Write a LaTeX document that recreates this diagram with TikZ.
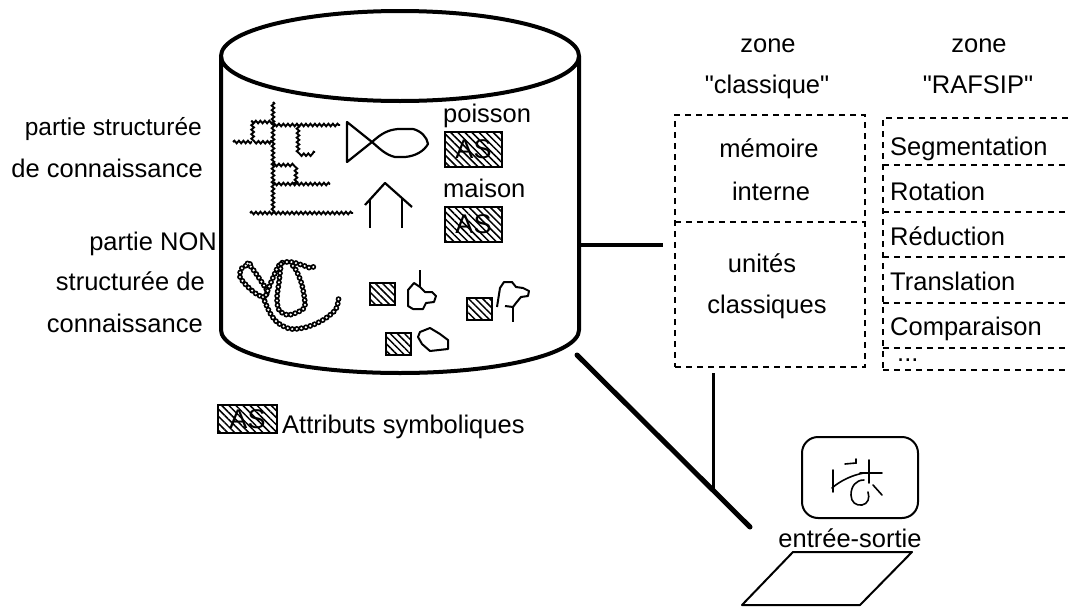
\documentclass[tikz,border=0pt]{standalone}
\usepackage{fontspec}
\setmainfont{Liberation Sans}[Ligatures=TeXOff]
\usetikzlibrary{patterns.meta, decorations.pathmorphing}

% a chain of hollow beads: black dots with white centres
\newcommand\beadchain[1]{\draw[beadout] plot[smooth] coordinates {#1};\draw[beadin] plot[smooth] coordinates {#1};}

\begin{document}
\begin{tikzpicture}[x=1pt, y=-1pt,
  lbl/.style={font=\fontsize{25.5}{30}\selectfont, inner sep=0pt},
  cyl/.style={line width=4pt},
  dashline/.style={dash pattern=on 6pt off 5pt, line width=1.5pt},
  dashbox/.style={draw, dashline, inner sep=0pt},
  cell/.style={inner sep=0pt, minimum width=192pt},
  hatch/.style={pattern={Lines[angle=-45, distance=5pt, line width=1.5pt]}},
  asbox/.style={draw, line width=2pt, hatch, inner sep=0pt,
                minimum width=57pt, minimum height=35pt, font=\fontsize{27}{30}\selectfont},
  smallas/.style={draw, line width=2pt, hatch, inner sep=0pt,
                  minimum width=25pt, minimum height=22pt},
  link/.style={line width=4pt},
  wavy/.style={decorate, decoration={snake, amplitude=1.3pt, segment length=4.5pt}, line width=1.9pt},
  beadout/.style={line width=5.8pt, line cap=round, dash pattern=on 0pt off 4.6pt},
  beadin/.style={white, line width=2.4pt, line cap=round, dash pattern=on 0pt off 4.6pt},
  outline/.style={line width=2.2pt, line join=round},
  blob/.style={line width=2pt, line join=round},
  icon/.style={line width=1.6pt, line cap=round}
]
\useasboundingbox (0,0) rectangle (1069,608);

% ---------- knowledge base (cylinder) ----------
\draw[cyl] (400,56) ellipse [x radius=179pt, y radius=45pt];
\draw[cyl] (221,56) -- (221,330) arc[start angle=180, end angle=360, x radius=179pt, y radius=43pt] -- (579,56);
\coordinate (cylR) at (581,245);
\coordinate (cylB) at (577,355);

% labels on the left
\node[lbl, anchor=base east, font=\fontsize{24.5}{30}\selectfont] (ls1) at (202,135) {partie structurée};
\node[lbl, anchor=base east] (ls2) at (203,177) {de connaissance};
\node[lbl, anchor=base east] (ln1) at (217,250) {partie NON};
\node[lbl, anchor=base east] (ln2) at (205,290) {structurée de};
\node[lbl, anchor=base east] (ln3) at (203,332) {connaissance};

% structured part: tree of wavy links
\draw[wavy] (273,102) -- (273,213);
\draw[wavy] (273,125) -- (340,125);
\draw[wavy] (298,125) -- (298,152) -- (315,152);
\draw[wavy] (273,122) -- (252,122) -- (252,141) -- (273,141);
\draw[wavy] (233,142) -- (252,142);
\draw[wavy] (273,165) -- (293,165) -- (293,184);
\draw[wavy] (273,184) -- (330,184);
\draw[wavy] (250,213) -- (353,213);

% fish
\draw[outline] (347,122) -- (347,162) -- (372,142)
  .. controls (382,133) and (388,130) .. (398,129) -- (413,129)
  .. controls (421,131) and (427,137) .. (428,144)
  .. controls (424,151) and (416,156) .. (405,157) -- (395,157)
  .. controls (386,155) and (380,149) .. (372,142) -- cycle;

% house
\draw[outline] (365,205) -- (385,183) -- (412,207);
\draw[outline] (370,199) -- (370,228);
\draw[outline] (402,198) -- (402,228);

% object names and their symbolic attributes
\node[lbl, anchor=base west] (poisson) at (443,122) {poisson};
\node[asbox] (as1) at (473.5,149.5) {AS};
\node[lbl, anchor=base west] (maison) at (443,197) {maison};
\node[asbox] (as2) at (473.5,224) {AS};

% non-structured part: bead chains
\beadchain{(250,264) (242,268) (240,277) (248,287) (258,295) (265,297) (267,291) (261,281) (252,268) (246,262)}
\beadchain{(263,297) (270,313) (278,323) (291,329) (307,327) (323,320) (336,309) (339,295)}
\beadchain{(266,295) (272,280) (280,264) (291,262) (302,265) (311,268) (316,265)}
\beadchain{(281,264) (279,282) (277,298) (279,310) (288,315) (300,311) (305,305) (302,285) (296,270) (290,263)}

% small attribute boxes with shapes
\node[smallas] (sa1) at (382.5,294) {};
\draw[blob] (420,270) -- (420,287);
\draw[blob] (420,287) -- (414,283) -- (408,290) -- (408,306) -- (413,309) -- (423,309)
  -- (426,303) -- (434,302) -- (436,296) -- (432,292) -- (425,292) -- cycle;

\node[smallas] (sa2) at (398,344) {};
\draw[blob] (420,332) -- (430,328) -- (440,334) -- (448,340) -- (448,349) -- (430,351) -- (422,344) -- (418,337) -- cycle;

\node[smallas] (sa3) at (479.5,308.5) {};
\draw[blob] (497,307) -- (500,288) -- (504,282) -- (512,282) -- (516,287) -- (523,288)
  -- (529,291) -- (528,296) -- (521,297) -- (516,303) -- (513,307) -- (505,306);
\draw[blob] (513,307) -- (513,322);

% legend
\node[asbox, minimum width=59pt, minimum height=28pt] (aslegend) at (247.5,419) {AS};
\node[lbl, anchor=base west] (legend) at (282,433) {Attributs symboliques};

% ---------- "classique" zone ----------
\node[lbl, anchor=base] (z1) at (768,52) {zone};
\node[lbl, anchor=base] (z1b) at (767,93) {"classique"};
\node[dashbox, minimum width=190pt, minimum height=252pt] (classic) at (770,241) {};
\node[cell, minimum width=190pt, minimum height=107pt] (mem) at (770,168.5) {};
\node[cell, minimum width=190pt, minimum height=145pt] (unit) at (770,294.5) {};
\draw[dashline] (mem.south west) -- (mem.south east);
\node[lbl, anchor=base] (memA) at (769,157) {mémoire};
\node[lbl, anchor=base] (memB) at (771,200) {interne};
\node[lbl, anchor=base] (unitA) at (762,272) {unités};
\node[lbl, anchor=base] (unitB) at (767,313) {classiques};

% ---------- "RAFSIP" zone ----------
\node[lbl, anchor=base] (z2) at (979,52) {zone};
\node[lbl, anchor=base] (z2b) at (978,93) {"RAFSIP"};
\node[dashbox, minimum width=192pt, minimum height=252pt] (rafsip) at (979,244) {};
\node[cell, minimum height=47pt] (r1) at (979,141.5) {};
\node[cell, minimum height=47pt] (r2) at (979,188.5) {};
\node[cell, minimum height=45pt] (r3) at (979,234.5) {};
\node[cell, minimum height=46pt] (r4) at (979,280) {};
\node[cell, minimum height=45pt] (r5) at (979,325.5) {};
\foreach \r in {r1,r2,r3,r4,r5}
  \draw[dashline] (\r.south west) -- (\r.south east);
\node[lbl, anchor=base west] (t1) at (890,155) {Segmentation};
\node[lbl, anchor=base west] (t2) at (890,200) {Rotation};
\node[lbl, anchor=base west] (t3) at (890,245) {Réduction};
\node[lbl, anchor=base west] (t4) at (890,290) {Translation};
\node[lbl, anchor=base west] (t5) at (890,335) {Comparaison};
\node[lbl, anchor=base west] (t6) at (897,361) {...};

% ---------- input / output ----------
\node[draw, line width=2pt, rounded corners=16pt, minimum width=116pt, minimum height=81pt] (screen) at (860,477.5) {};
\draw[icon] (833,470) -- (833,492);
\draw[icon] (832,488) .. controls (840,481) and (852,475) .. (864,473);
\draw[icon] (845,464) -- (856,463) -- (856,459);
\draw[icon] (869,460) -- (869,483);
\draw[icon] (860,473) -- (882,473);
\draw[icon] (864,480) .. controls (856,480) and (851,486) .. (851,495)
  .. controls (851,502) and (856,506) .. (862,505) .. controls (868,504) and (870,498) .. (868,492);
\draw[icon] (873,485) -- (882,495);
\node[lbl, anchor=base] (io) at (850,547) {entrée-sortie};
\draw[line width=2pt, line join=round] (793,552) coordinate (tabA) -- (912,552) -- (860,605) -- (742,605) -- cycle;

% ---------- connectors ----------
\coordinate (ioEnd) at (750,527);
\coordinate (join) at (713,491);
\coordinate (vtop) at (713,373);
\draw[link, shorten >=12pt] (cylR) -- (cylR -| unit.west);
\draw[line width=5pt, line cap=round] (cylB) -- (ioEnd);
\draw[line width=3pt] (vtop) -- (join);
\end{tikzpicture}
\end{document}
